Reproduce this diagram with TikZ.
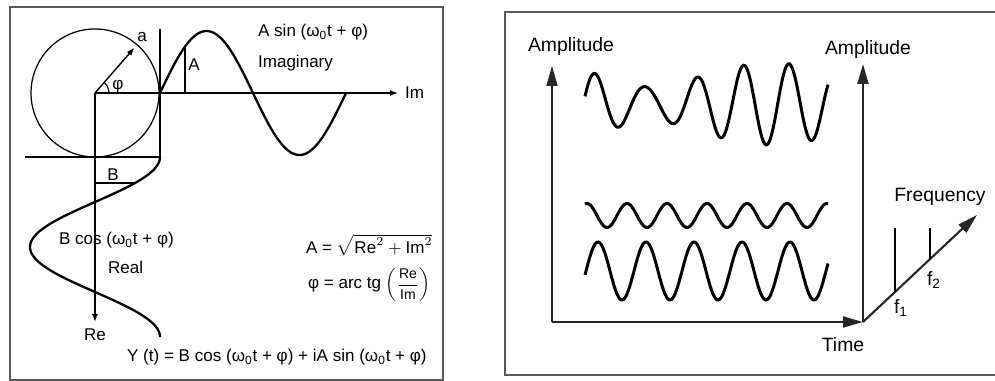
\documentclass[tikz,border=0pt]{standalone}
\usepackage{fontspec}
\setmainfont{Liberation Sans}
\usepackage{amsmath}
\usetikzlibrary{arrows.meta,positioning}
\tikzset{%
  frame/.style={line width=1.2pt,draw=black!65},
  axis/.style={-{Latex[length=1.6mm,width=1.2mm]},line width=0.8pt},
  bigaxis/.style={-{Triangle[length=4mm,width=2.2mm]},line width=1.2pt,black!85},
  guide/.style={line width=0.7pt},
  curve/.style={line width=1.3pt,smooth,samples=120},
  wave/.style={line width=1.7pt,smooth,samples=240},
  lbl/.style={font=\fontsize{9.7}{11.5}\selectfont,inner sep=1pt},
  biglbl/.style={font=\fontsize{11}{13}\selectfont,inner sep=1pt}
}

\begin{document}
\begin{tikzpicture}[x=0.02cm,y=-0.02cm]
  \useasboundingbox (0,0) rectangle (995,381);

  % left panel: phasor
  \draw[frame] (10,7) rectangle (443,380);
  \coordinate (O) at (95,93);
  \coordinate (imEnd) at (398,93);
  \coordinate (reEnd) at (95,322);
  \coordinate (tip) at (134.4,47.7);
  \draw[guide] (O) circle[radius=64];
  \draw[guide] (160,29) -- (160,157) -- (25,157);
  \draw[axis] (O) -- (imEnd);
  \draw[axis] (O) -- (reEnd);
  \draw[axis] (O) -- (tip);
  \draw[guide] (109,93) arc[start angle=0,end angle=-49,radius=14];
  \draw[curve] plot[domain=160:346] (\x,{93-62*sin((\x-160)*1.93548)});
  \draw[curve] plot[domain=157:337] ({95+65*cos((\x-157)*2)},\x);
  \coordinate (aFoot) at (185,93);
  \coordinate (aTop) at (185,46.6);
  \draw[guide] (aFoot) -- (aTop);
  \coordinate (bFoot) at (95,183);
  \coordinate (bEnd) at (134.8,183);
  \draw[guide] (bFoot) -- (bEnd);

  \node[lbl] (lblA) at (142,37) {a};
  \node[lbl] (lblPhi) at (118,87) {φ};
  \node[lbl] (lblAmp) at (194,65) {A};
  \node[lbl] (lblB) at (113,175) {B};
  \node[lbl, right] (sinTxt) at (256,32) {A sin (ω\textsubscript{0}t + φ)};
  \node[lbl, right] (imagTxt) at (256,63) {Imaginary};
  \node[lbl, right=1mm of imEnd] (imTxt) {Im};
  \node[lbl, below=1mm of reEnd] (reTxt) {Re};
  \node[lbl, right] (cosTxt) at (57,240) {B cos (ω\textsubscript{0}t + φ)};
  \node[lbl, right] (realTxt) at (106,267) {Real};
  \node[lbl, right] (ampEq) at (304,245) {A = $\sqrt{\text{Re}^2+\text{Im}^2}$};
  \node[lbl, right] (phiEq) at (306,285) {φ = arc tg {\fontsize{8}{9}\selectfont$\left(\dfrac{\text{Re}}{\text{Im}}\right)$}};
  \node[lbl, right] (yEq) at (125,357) {Y (t) = B cos (ω\textsubscript{0}t + φ) + iA sin (ω\textsubscript{0}t + φ)};

  % right panel: time and frequency
  \draw[frame] (995,12) -- (505,12) -- (505,375) -- (995,375);
  \coordinate (tOrig) at (552,322);
  \coordinate (fOrig) at (863,322);
  \coordinate (ampL) at (552,66);
  \coordinate (ampR) at (863,64);
  \coordinate (fEnd) at (977,215);
  \draw[bigaxis] (tOrig) -- (ampL);
  \draw[bigaxis] (tOrig) -- (fOrig);
  \draw[bigaxis] (fOrig) -- (ampR);
  \draw[bigaxis] (fOrig) -- (fEnd);
  \coordinate (fOneTop) at (895,228);
  \coordinate (fOneFoot) at (895,291.7);
  \coordinate (fTwoTop) at (930,228);
  \coordinate (fTwoFoot) at (930,258.6);
  \draw[wave,line width=1.3pt] (fOneTop) -- (fOneFoot);
  \draw[wave,line width=1.3pt] (fTwoTop) -- (fTwoFoot);

  \draw[wave] plot[domain=585:828] (\x,{104-29*sin((\x-586)*7.5)-12*cos((\x-587)*9)});
  \draw[wave] plot[domain=585:828] (\x,{215.5-12*cos((\x-587)*9)});
  \draw[wave] plot[domain=585:828] (\x,{271-29*sin((\x-586)*7.5)});

  \node[biglbl] (ampLTxt) at (571,47) {Amplitude};
  \node[biglbl] (ampRTxt) at (868,50) {Amplitude};
  \node[biglbl] (timeTxt) at (843,345) {Time};
  \node[biglbl] (freqTxt) at (940,197) {Frequency};
  \node[biglbl] (fOneTxt) at (901,308) {f\textsubscript{1}};
  \node[biglbl] (fTwoTxt) at (934,280) {f\textsubscript{2}};
\end{tikzpicture}
\end{document}
